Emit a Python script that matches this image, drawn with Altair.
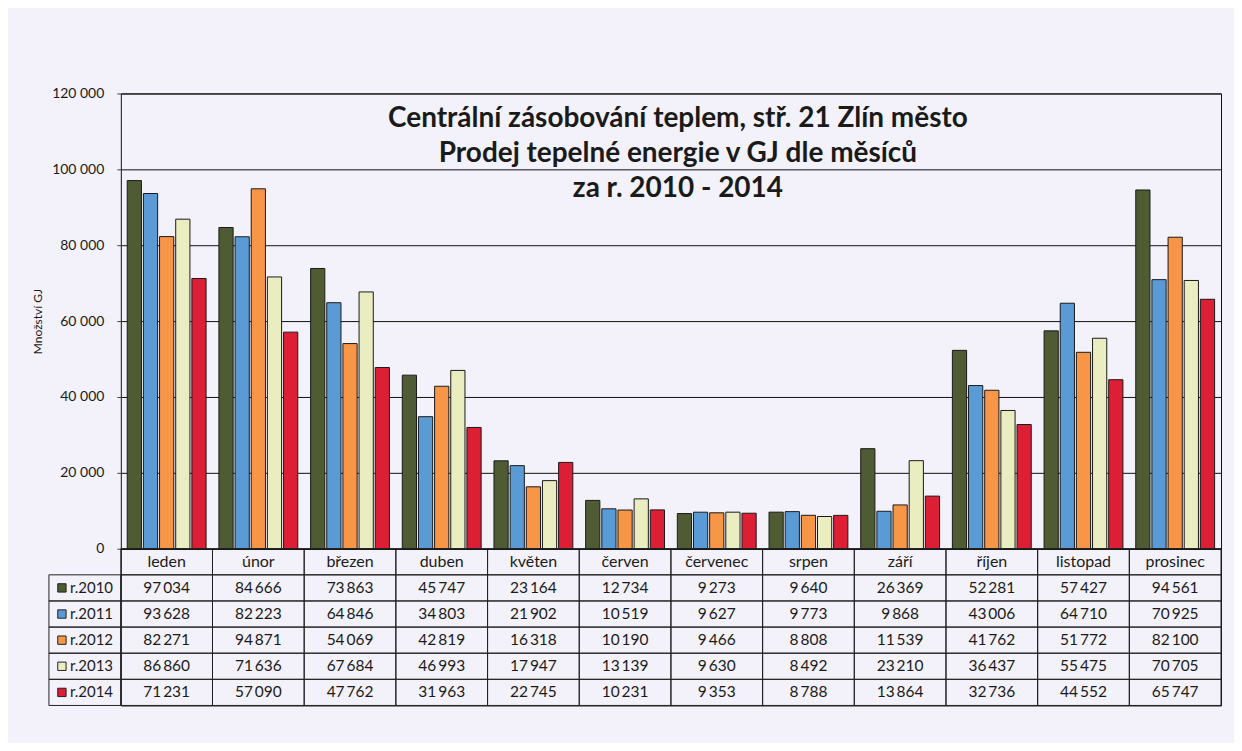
import altair as alt
import pandas as pd

months = ["leden", "únor", "březen", "duben", "květen", "červen",
          "červenec", "srpen", "září", "říjen", "listopad", "prosinec"]
years = ["r.2010", "r.2011", "r.2012", "r.2013", "r.2014"]
v2010 = [97034, 84666, 73863, 45747, 23164, 12734, 9273, 9640, 26369, 52281, 57427, 94561]
v2011 = [93628, 82223, 64846, 34803, 21902, 10519, 9627, 9773, 9868, 43006, 64710, 70925]
v2012 = [82271, 94871, 54069, 42819, 16318, 10190, 9466, 8808, 11539, 41762, 51772, 82100]
v2013 = [86860, 71636, 67684, 46993, 17947, 13139, 9630, 8492, 23210, 36437, 55475, 70705]
v2014 = [71231, 57090, 47762, 31963, 22745, 10231, 9353, 8788, 13864, 32736, 44552, 65747]
colors = ["#4f5b32", "#5b9bd5", "#f79646", "#e9edbf", "#dc1f35"]
y_ticks = [0, 20000, 40000, 60000, 80000, 100000, 120000]
title_lines = ["Centrální zásobování teplem, stř. 21 Zlín město",
               "Prodej tepelné energie v GJ dle měsíců",
               "za r.  2010 - 2014"]
y_title = "Množství GJ"

FONT = "Lato"
series = [v2010, v2011, v2012, v2013, v2014]
rows = []
for y, vals in zip(years, series):
    for m, v in zip(months, vals):
        rows.append({"year": y, "month": m, "value": v})
df = pd.DataFrame(rows)

color_scale = alt.Scale(domain=years, range=colors)
month_band = alt.Scale(domain=months, paddingInner=0.14, paddingOuter=0.07)

bars = alt.Chart(df).mark_bar(stroke="#1a1a1a", strokeWidth=1).encode(
    x=alt.X("month:N", sort=months, scale=month_band, axis=None),
    xOffset=alt.XOffset("year:N", sort=years,
                        scale=alt.Scale(domain=years, paddingInner=0.12, paddingOuter=0)),
    y=alt.Y("value:Q", scale=alt.Scale(domain=[0, 120000], nice=False),
            axis=alt.Axis(values=y_ticks, title=y_title, grid=True, gridColor="#111111",
                          gridWidth=1, domain=False, ticks=True, tickSize=4,
                          tickColor="#444444",
                          labelExpr="replace(format(datum.value, ','), ',', ' ')",
                          labelFont=FONT, labelFontSize=14, labelColor="#1a1a1a",
                          labelPadding=13, titleFont=FONT, titleFontSize=12,
                          titleFontWeight="normal", titleColor="#1a1a1a",
                          titlePadding=7)),
    color=alt.Color("year:N", scale=color_scale, legend=None),
)

title = alt.Chart(pd.DataFrame({"k": [0]})).mark_text(
    text=title_lines, font=FONT, fontSize=28, fontWeight="bold", color="#1a1a1a",
    lineHeight=35, align="center", baseline="top"
).encode(x=alt.value(558), y=alt.value(12))

top = alt.layer(bars, title).properties(width=1102, height=456)

# ---- table ----
row_domain = ["hdr"] + years
row_scale = alt.Scale(domain=row_domain, paddingInner=0, paddingOuter=0)
col_scale = alt.Scale(domain=months, paddingInner=0, paddingOuter=0)

grid = pd.DataFrame([{"month": m, "row": r} for r in row_domain for m in months])
cells = alt.Chart(grid).mark_rect(fillOpacity=0, stroke="#222222", strokeWidth=1).encode(
    x=alt.X("month:N", scale=col_scale, axis=None),
    y=alt.Y("row:N", scale=row_scale, axis=None),
)

hdr = alt.Chart(pd.DataFrame({"month": months, "row": ["hdr"] * 12})).mark_text(
    font=FONT, fontSize=16, color="#1a1a1a").encode(
    x=alt.X("month:N", scale=col_scale, axis=None),
    y=alt.Y("row:N", scale=row_scale, axis=None),
    text="month:N",
)

vals = alt.Chart(df).transform_calculate(
    label="replace(format(datum.value, ','), ',', '\u2009')"
).mark_text(font=FONT, fontSize=15.5, color="#1a1a1a").encode(
    x=alt.X("month:N", scale=col_scale, axis=None),
    y=alt.Y("year:N", scale=row_scale, axis=None),
    text="label:N",
)

ydf = pd.DataFrame({"year": years})
leg_cells = alt.Chart(ydf).mark_rect(fillOpacity=0, stroke="#222222", strokeWidth=1).encode(
    x=alt.value(-72), x2=alt.value(0),
    y=alt.Y("year:N", scale=row_scale, axis=None),
)
leg_sw = alt.Chart(ydf).mark_square(size=70, opacity=1, stroke="#222222", strokeWidth=1).encode(
    x=alt.value(-59),
    y=alt.Y("year:N", scale=row_scale, axis=None),
    color=alt.Color("year:N", scale=color_scale, legend=None),
)
leg_tx = alt.Chart(ydf).mark_text(font=FONT, fontSize=15, color="#1a1a1a", align="left").encode(
    x=alt.value(-51),
    y=alt.Y("year:N", scale=row_scale, axis=None),
    text="year:N",
)

table = alt.layer(cells, hdr, vals, leg_cells, leg_sw, leg_tx).properties(width=1102, height=157)

chart = alt.vconcat(top, table, spacing=0, bounds="flush").properties(
    padding={"left": 23, "top": 77, "right": 12, "bottom": 36},
    background="#f3f1f9",
).configure_view(stroke="#111111", strokeWidth=1)

chart.save("out.html", embed_options={"renderer": "svg", "actions": False})
